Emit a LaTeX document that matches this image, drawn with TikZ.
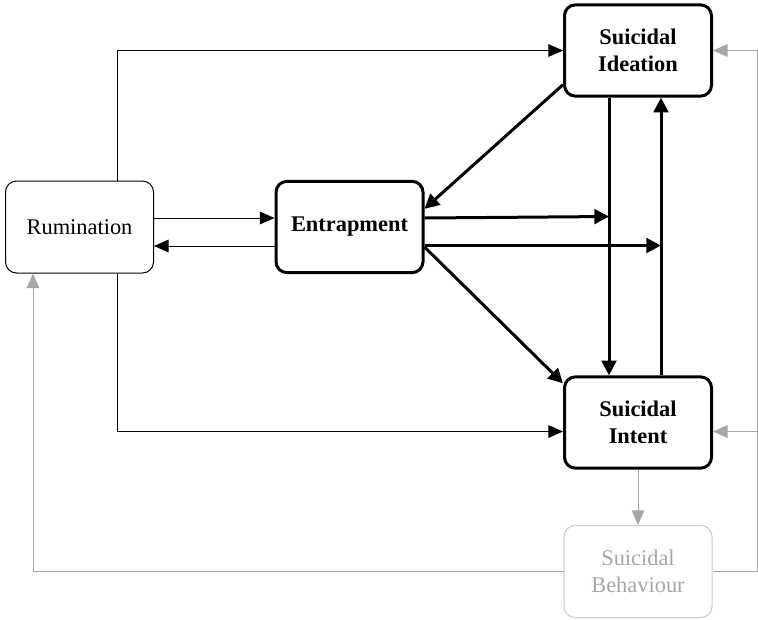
\documentclass[tikz,border=0pt]{standalone}
\usepackage{fontspec}
\setmainfont{Liberation Serif}
\usetikzlibrary{arrows.meta,calc}

\tikzset{every picture/.style={line width=0.75pt}}
\definecolor{arrowgrey}{RGB}{166,166,166}
\definecolor{boxgrey}{RGB}{200,200,200}
\tikzset{
  box/.style={draw, rounded corners=8.25pt, minimum width=111pt, minimum height=69pt,
    align=center, inner sep=0.75pt, font=\fontsize{16.8}{20.2}\selectfont},
  boldbox/.style={box, line width=2.25pt, minimum width=110.25pt, minimum height=68.5pt,
    font=\fontsize{16.8}{20.2}\selectfont\bfseries},
  ghostbox/.style={box, draw=boxgrey, text=arrowgrey},
  thinarrow/.style={-{Triangle[length=11pt,width=9.5pt]}},
  thickarrow/.style={line width=2.25pt, -{Triangle[length=11pt,width=11pt]}},
  greyarrow/.style={draw=arrowgrey, -{Triangle[length=11pt,width=9.5pt]}},
}

\begin{document}
\begin{tikzpicture}[x=0.75pt,y=0.75pt,yscale=-1,xscale=1]
    \useasboundingbox (0,0) rectangle (758,619);

    % Boxes
    \node[box] (rum) at (79.5,227) {Rumination};
    \node[boldbox] (ent) at (349.5,227) {Entrapment};
    \node[boldbox] (ide) at (638,50.5) {Suicidal\\Ideation};
    \node[boldbox] (int) at (638,422.5) {Suicidal\\Intent};
    \node[ghostbox] (beh) at (638,571.5) {Suicidal\\Behaviour};

    % Free ends
    \coordinate (hitA) at (609,216.5);
    \coordinate (hitB) at (661,245.5);
    \coordinate (railB) at (757,571.5);
    \coordinate (railI) at (757,431.5);

    % Rumination links
    \draw[thinarrow] ($(rum.east)+(0,-9)$) -- ($(ent.west)+(0,-9)$);
    \draw[thinarrow] ($(ent.west)+(0,19)$) -- ($(rum.east)+(0,19)$);
    \draw[thinarrow] ($(rum.north)+(37.5,0)$) |- (ide.west);
    \draw[thinarrow] ($(rum.south)+(37.5,0)$) |- ($(int.west)+(0,9)$);

    % Entrapment, ideation and intent
    \draw[thickarrow] ($(ide.south west)+(0,-13)$) -- ($(ent.north east)+(0,29)$);
    \draw[thickarrow] ($(ent.east)+(0,-9)$) -- (hitA);
    \draw[thickarrow] ($(ent.east)+(0,18.5)$) -- (hitB);
    \draw[thickarrow] ($(ent.east)+(0,20)$) -- ($(int.north west)+(0,8)$);
    \draw[thickarrow] ($(ide.south)+(-29,0)$) -- ($(int.north)+(-29,0)$);
    \draw[thickarrow] ($(int.north)+(23,0)$) -- ($(ide.south)+(23,0)$);

    % Behaviour feedback
    \draw[greyarrow] (int.south) -- (beh.north);
    \draw[greyarrow] (beh.east) -- (railB) |- (ide.east);
    \draw[greyarrow] (railI) -- ($(int.east)+(0,9)$);
    \draw[greyarrow] (beh.west) -| ($(rum.south)+(-46.5,0)$);

\end{tikzpicture}
\end{document}
